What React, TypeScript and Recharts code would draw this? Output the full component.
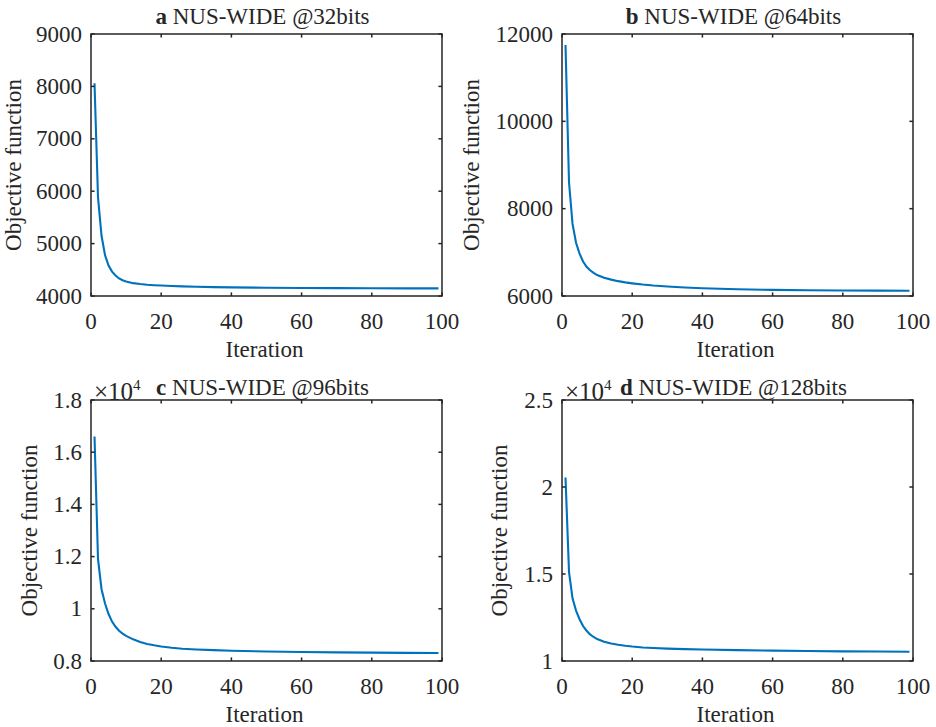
import React from 'react';
import { LineChart, Line, XAxis, YAxis, ReferenceArea } from 'recharts';

// ---------- data ----------
const iterations = [1, 2, 3, 4, 5, 6, 7, 8, 9, 10, 12, 14, 16, 18, 20, 23, 26, 30, 35, 40, 50, 60, 70, 80, 90, 99];

const valuesA = [8060, 5880, 5150, 4780, 4580, 4465, 4390, 4335, 4300, 4275, 4245, 4228, 4215, 4206, 4199, 4190, 4183, 4176, 4170, 4165, 4158, 4153, 4150, 4148, 4146, 4145];
const valuesB = [11750, 8600, 7650, 7220, 6970, 6790, 6670, 6590, 6530, 6480, 6420, 6375, 6340, 6312, 6290, 6262, 6240, 6218, 6196, 6178, 6155, 6140, 6132, 6126, 6122, 6120];
const valuesC = [16600, 11900, 10750, 10200, 9800, 9510, 9310, 9160, 9050, 8960, 8830, 8730, 8655, 8600, 8555, 8505, 8470, 8440, 8415, 8395, 8365, 8345, 8330, 8320, 8312, 8305];
const valuesD = [20550, 15100, 13600, 12900, 12400, 12010, 11740, 11530, 11380, 11260, 11110, 11010, 10935, 10875, 10830, 10780, 10745, 10710, 10685, 10665, 10625, 10595, 10572, 10555, 10542, 10532];

const xTicks = [0, 20, 40, 60, 80, 100];
const xTickLabels = ['0', '20', '40', '60', '80', '100'];

const yTicksA = [4000, 5000, 6000, 7000, 8000, 9000];
const yTickLabelsA = ['4000', '5000', '6000', '7000', '8000', '9000'];
const yTicksB = [6000, 8000, 10000, 12000];
const yTickLabelsB = ['6000', '8000', '10000', '12000'];
const yTicksC = [8000, 10000, 12000, 14000, 16000, 18000];
const yTickLabelsC = ['0.8', '1', '1.2', '1.4', '1.6', '1.8'];
const yTicksD = [10000, 15000, 20000, 25000];
const yTickLabelsD = ['1', '1.5', '2', '2.5'];

const titleLetters = ['a', 'b', 'c', 'd'];
const titleTexts = [' NUS-WIDE @32bits', ' NUS-WIDE @64bits', ' NUS-WIDE @96bits', ' NUS-WIDE @128bits'];
const xLabel = 'Iteration';
const yLabel = 'Objective function';

// ---------- style ----------
const FONT = '"Liberation Serif", "Times New Roman", serif';
const INK = '#262626';
const LINE = '#0072BD';
const TICK_FS = 23;
const LABEL_FS = 23;
const TICK_LEN = 3.6;
const BOX_W = 1.5;

type PanelCfg = {
  left: number; top: number; width: number; height: number;
  plotL: number; plotT: number; plotR: number; plotB: number;
  values: number[]; yTicks: number[]; yTickLabels: string[];
  yDomain: [number, number];
  exponent: boolean;
  yLabelX: number;
  titleY: number;
};

const panels: PanelCfg[] = [
  { left: 0, top: 0, width: 468, height: 366, plotL: 91, plotT: 34, plotR: 442, plotB: 296,
    values: valuesA, yTicks: yTicksA, yTickLabels: yTickLabelsA, yDomain: [4000, 9000], exponent: false, yLabelX: 21, titleY: 24 },
  { left: 468, top: 0, width: 468, height: 366, plotL: 562, plotT: 34, plotR: 913, plotB: 296,
    values: valuesB, yTicks: yTicksB, yTickLabels: yTickLabelsB, yDomain: [6000, 12000], exponent: false, yLabelX: 479, titleY: 24 },
  { left: 0, top: 366, width: 468, height: 361, plotL: 91, plotT: 400, plotR: 442, plotB: 661,
    values: valuesC, yTicks: yTicksC, yTickLabels: yTickLabelsC, yDomain: [8000, 18000], exponent: true, yLabelX: 37, titleY: 395 },
  { left: 468, top: 366, width: 468, height: 361, plotL: 562, plotT: 400, plotR: 913, plotB: 661,
    values: valuesD, yTicks: yTicksD, yTickLabels: yTickLabelsD, yDomain: [10000, 25000], exponent: true, yLabelX: 507, titleY: 395 },
];

const Y_AXIS_W = 60;
const X_AXIS_H = 40;

function Panel({ cfg }: { cfg: PanelCfg }) {
  const data = iterations.map((it, i) => ({ it, v: cfg.values[i] }));
  const pl = cfg.plotL - cfg.left;
  const pr = cfg.plotR - cfg.left;
  const pt = cfg.plotT - cfg.top;
  const pb = cfg.plotB - cfg.top;
  const margin = {
    top: pt,
    right: cfg.width - pr,
    bottom: cfg.height - pb - X_AXIS_H,
    left: pl - Y_AXIS_W,
  };

  const renderXTick = (props: any) => {
    const { x, payload, index } = props;
    const label = xTickLabels[index] ?? String(payload.value);
    return (
      <g>
        <line x1={x} x2={x} y1={pb} y2={pb - TICK_LEN} stroke={INK} strokeWidth={BOX_W} />
        <line x1={x} x2={x} y1={pt} y2={pt + TICK_LEN} stroke={INK} strokeWidth={BOX_W} />
        <text x={x} y={pb + 32.5} textAnchor="middle" fontFamily={FONT} fontSize={TICK_FS} fill={INK}>
          {label}
        </text>
      </g>
    );
  };

  const renderYTick = (props: any) => {
    const { y, payload, index } = props;
    const label = cfg.yTickLabels[index] ?? String(payload.value);
    return (
      <g>
        <line x1={pl} x2={pl + TICK_LEN} y1={y} y2={y} stroke={INK} strokeWidth={BOX_W} />
        <line x1={pr} x2={pr - TICK_LEN} y1={y} y2={y} stroke={INK} strokeWidth={BOX_W} />
        <text x={pl - 9} y={y + 7.5} textAnchor="end" fontFamily={FONT} fontSize={TICK_FS} fill={INK}>
          {label}
        </text>
      </g>
    );
  };

  return (
    <div style={{ position: 'absolute', left: cfg.left, top: cfg.top, width: cfg.width, height: cfg.height }}>
      <LineChart width={cfg.width} height={cfg.height} data={data} margin={margin}>
        <XAxis
          type="number"
          dataKey="it"
          domain={[0, 100]}
          ticks={xTicks}
          interval={0}
          height={X_AXIS_H}
          axisLine={false}
          tickLine={false}
          tick={renderXTick}
          allowDataOverflow
        />
        <YAxis
          type="number"
          domain={cfg.yDomain}
          ticks={cfg.yTicks}
          interval={0}
          width={Y_AXIS_W}
          axisLine={false}
          tickLine={false}
          tick={renderYTick}
          allowDataOverflow
        />
        <Line
          type="linear"
          dataKey="v"
          stroke={LINE}
          strokeWidth={2.1}
          dot={false}
          activeDot={false}
          isAnimationActive={false}
        />
        <ReferenceArea
          x1={0}
          x2={100}
          y1={cfg.yDomain[0]}
          y2={cfg.yDomain[1]}
          fill="none"
          fillOpacity={0}
          stroke={INK}
          strokeWidth={BOX_W}
          ifOverflow="visible"
        />
      </LineChart>
    </div>
  );
}

export default function App() {
  return (
    <div style={{ position: 'absolute', left: 0, top: 0, width: 936, height: 727, background: '#fff', overflow: 'hidden' }}>
      {panels.map((p, i) => (
        <Panel key={i} cfg={p} />
      ))}
      <svg width={936} height={727} style={{ position: 'absolute', left: 0, top: 0, pointerEvents: 'none' }}>
        {panels.map((p, i) => {
          const cx = (p.plotL + p.plotR) / 2;
          const cy = (p.plotT + p.plotB) / 2;
          return (
            <g key={i} fontFamily={FONT} fill={INK}>
              <text x={cx - 4} y={p.titleY} textAnchor="middle" fontSize={LABEL_FS}>
                <tspan fontWeight="bold">{titleLetters[i]}</tspan>
                {titleTexts[i]}
              </text>
              <text x={cx - 2} y={p.plotB + 61} textAnchor="middle" fontSize={LABEL_FS}>
                {xLabel}
              </text>
              <text
                x={p.yLabelX}
                y={cy}
                textAnchor="middle"
                fontSize={LABEL_FS}
                transform={`rotate(-90 ${p.yLabelX} ${cy})`}
              >
                {yLabel}
              </text>
              {p.exponent && (
                <text x={p.plotL + 3} y={p.plotT} fontSize={25}>
                  ×10
                  <tspan fontSize={15} dy={-10}>4</tspan>
                </text>
              )}
            </g>
          );
        })}
      </svg>
    </div>
  );
}
